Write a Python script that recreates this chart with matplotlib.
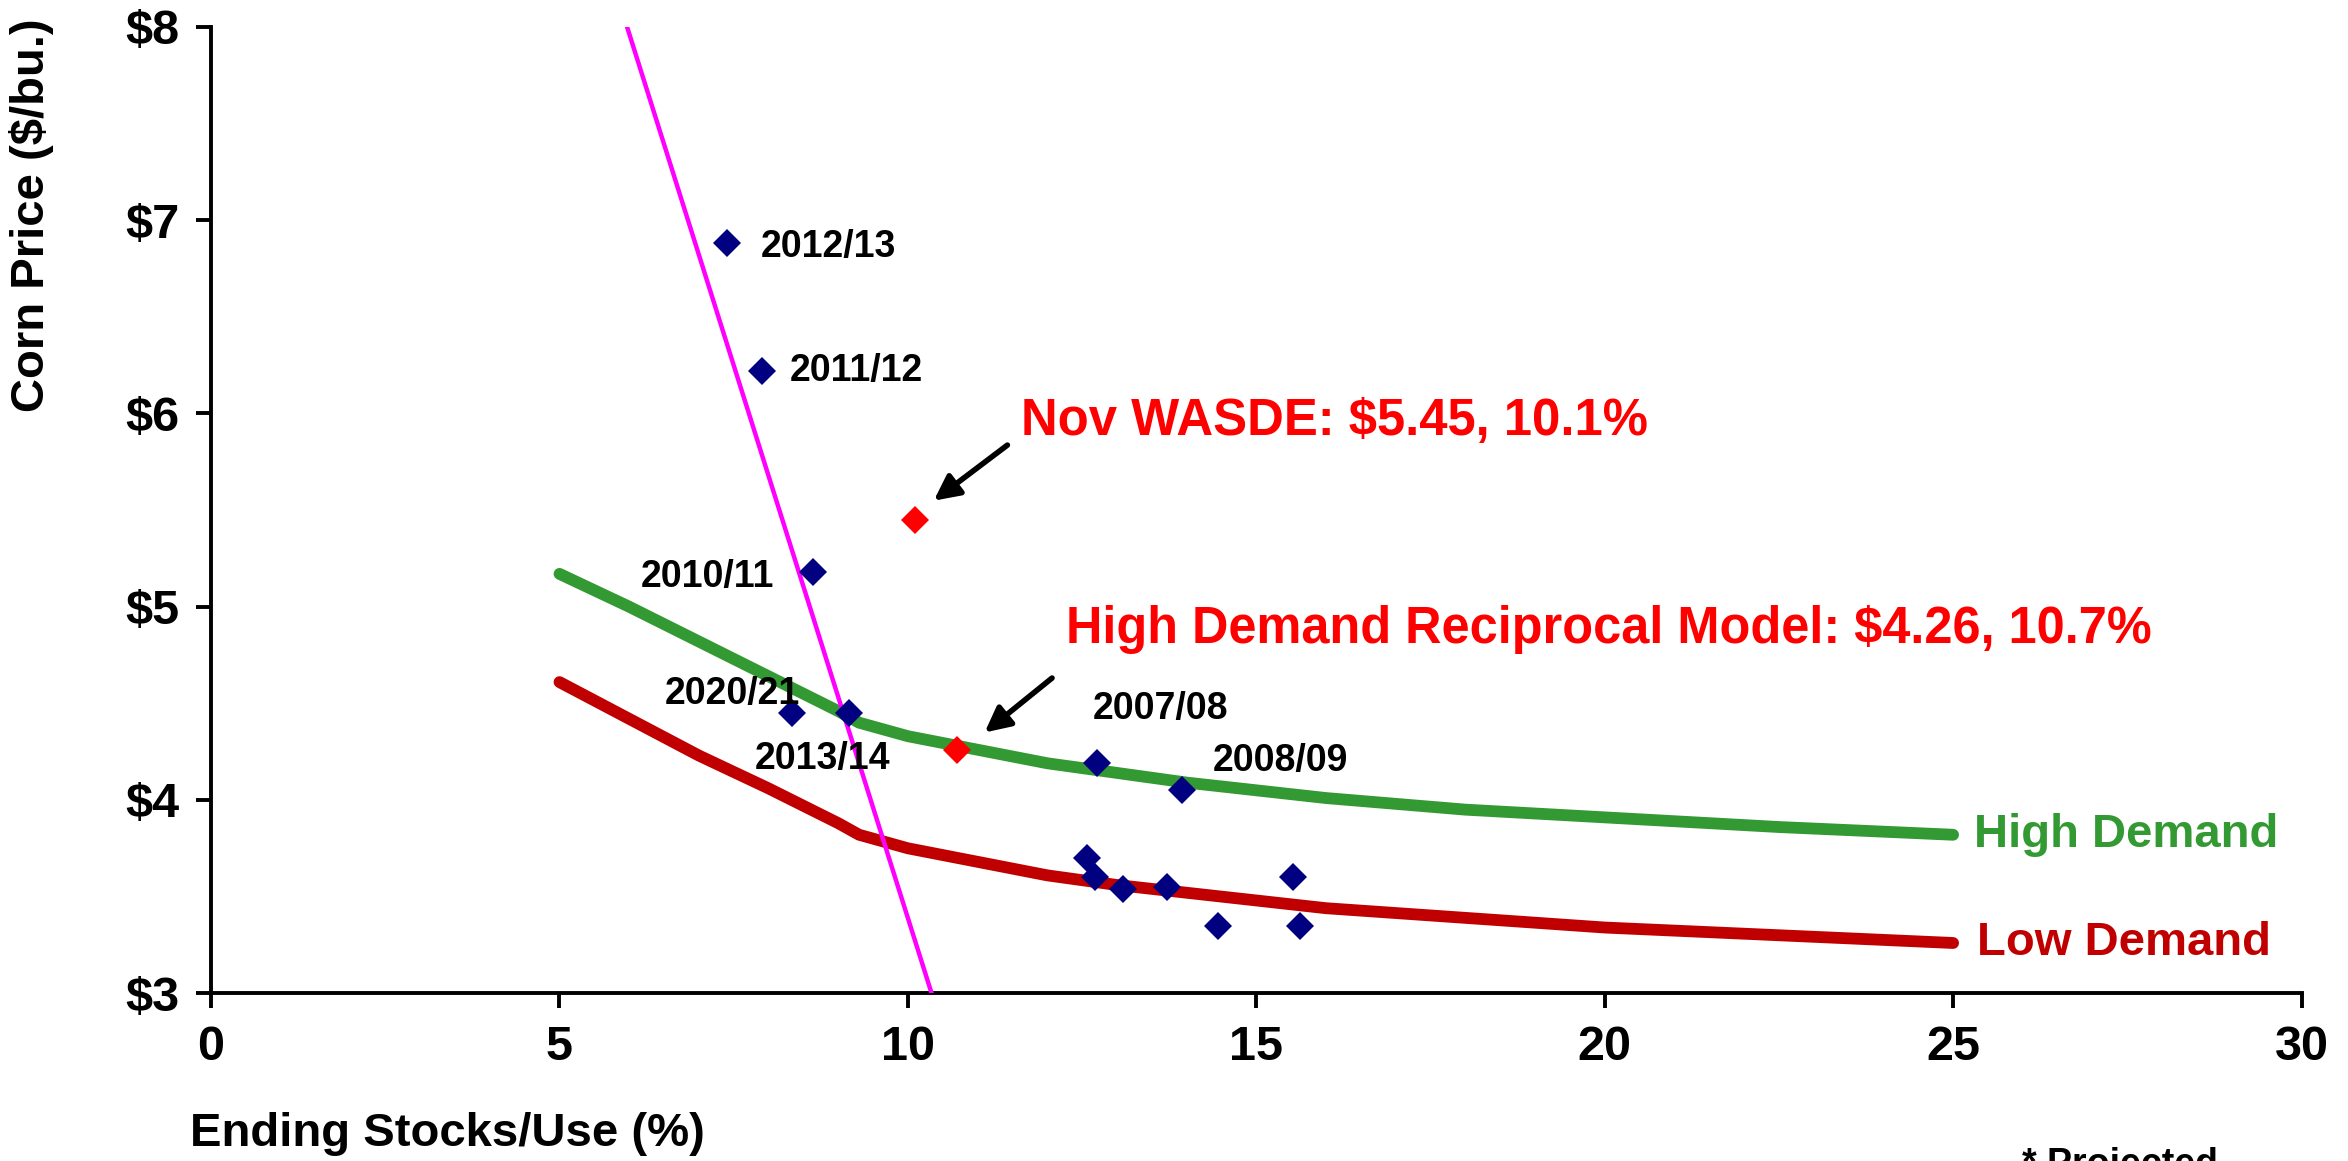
import matplotlib
matplotlib.use('Agg')
import matplotlib.pyplot as plt

# historical marketing years (stocks/use %, season avg price)
hist_x = [7.41, 7.91, 8.64, 8.34, 9.16, 12.72, 13.93, 12.57, 12.69, 13.08, 13.72, 14.45, 15.52, 15.63]
hist_y = [6.88, 6.22, 5.18, 4.45, 4.45, 4.19, 4.05, 3.70, 3.60, 3.54, 3.55, 3.35, 3.60, 3.35]
hist_labels = ['2012/13', '2011/12', '2010/11', '2020/21', '2013/14', '2007/08', '2008/09',
               '', '', '', '', '', '', '']

# demand curves
curve_x = [5, 6, 7, 8, 9, 9.3, 10, 11, 12, 13, 14, 15, 16, 18, 20, 22.5, 25]
high_demand = [5.17, 5.00, 4.82, 4.64, 4.46, 4.40, 4.33, 4.26, 4.19, 4.14, 4.09, 4.05, 4.01, 3.95, 3.91, 3.86, 3.82]
low_demand = [4.61, 4.42, 4.23, 4.06, 3.88, 3.82, 3.75, 3.68, 3.61, 3.56, 3.52, 3.48, 3.44, 3.39, 3.34, 3.30, 3.26]

# supply line
supply_x = [5.97, 10.34]
supply_y = [8.0, 3.0]

# projections
wasde_x, wasde_y = 10.1, 5.45
model_x, model_y = 10.7, 4.26

xticks = [0, 5, 10, 15, 20, 25, 30]
yticks = [3, 4, 5, 6, 7, 8]

plt.rcParams['font.family'] = ['Liberation Sans', 'DejaVu Sans']
plt.rcParams['font.weight'] = 'bold'

fig = plt.figure(figsize=(23.48, 11.61), dpi=100)
ax = fig.add_axes([0.0899, 0.1445, 0.8903, 0.8323])

green = '#339933'
dred = '#C00000'

ax.plot(curve_x, high_demand, color=green, lw=8.5, solid_capstyle='round', solid_joinstyle='round', zorder=2)
ax.plot(curve_x, low_demand, color=dred, lw=8.5, solid_capstyle='round', solid_joinstyle='round', zorder=2)
ax.plot(supply_x, supply_y, color='#FF00FF', lw=3.2, zorder=3)

ax.plot(hist_x, hist_y, 'D', color='#000080', markersize=14, markeredgewidth=0, zorder=4)
ax.plot([wasde_x, model_x], [wasde_y, model_y], 'D', color='#FF0000', markersize=14,
        markeredgewidth=0, zorder=5)

# year labels: (x, y, ha)
label_pos = {
    '2012/13': (7.89, 6.86, 'left'),
    '2011/12': (8.30, 6.22, 'left'),
    '2010/11': (8.08, 5.155, 'right'),
    '2020/21': (8.45, 4.55, 'right'),
    '2013/14': (7.80, 4.21, 'left'),
    '2007/08': (12.66, 4.47, 'left'),
    '2008/09': (14.38, 4.20, 'left'),
}
for lab in hist_labels:
    if lab:
        lx, ly, ha = label_pos[lab]
        ax.text(lx, ly, lab, fontsize=27, fontweight='bold', ha=ha, va='center', zorder=6)

ax.annotate('', xy=(10.34, 5.54), xytext=(11.46, 5.845),
            arrowprops=dict(arrowstyle='-|>', color='black', lw=4, mutation_scale=38))
ax.annotate('', xy=(11.07, 4.34), xytext=(12.10, 4.64),
            arrowprops=dict(arrowstyle='-|>', color='black', lw=4, mutation_scale=38))

ax.text(11.63, 5.96, 'Nov WASDE: $%.2f, %.1f%%' % (wasde_y, wasde_x), color='#FF0000',
        fontsize=36.6, fontweight='bold', ha='left', va='center')
ax.text(12.27, 4.88, 'High Demand Reciprocal Model: $%.2f, %.1f%%' % (model_y, model_x),
        color='#FF0000', fontsize=36.4, fontweight='bold', ha='left', va='center')

ax.text(25.30, 3.82, 'High Demand', color=green, fontsize=34, fontweight='bold', ha='left', va='center')
ax.text(25.34, 3.26, 'Low Demand', color=dred, fontsize=34, fontweight='bold', ha='left', va='center')

ax.set_xlim(0, 30)
ax.set_ylim(3, 8)
ax.set_xticks(xticks)
ax.set_xticklabels([str(t) for t in xticks])
ax.set_yticks(yticks)
ax.set_yticklabels(['$%d' % t for t in yticks])
ax.tick_params(axis='both', direction='out', length=11, width=2.8, labelsize=35, pad=12)
for lbl in ax.get_xticklabels() + ax.get_yticklabels():
    lbl.set_fontweight('bold')

ax.spines['top'].set_visible(False)
ax.spines['right'].set_visible(False)
ax.spines['left'].set_linewidth(2.8)
ax.spines['bottom'].set_linewidth(2.8)

ax.set_ylabel('Corn Price ($/bu.)', fontsize=34, fontweight='bold')
ax.yaxis.set_label_coords(-0.075, 0.805)

fig.text(0.081, 0.023, 'Ending Stocks/Use (%)', fontsize=34, fontweight='bold', ha='left', va='center')
fig.text(0.861, 0.012, '* Projected', fontsize=27, fontweight='bold', ha='left', va='top')

fig.savefig('out.png', dpi=100)
